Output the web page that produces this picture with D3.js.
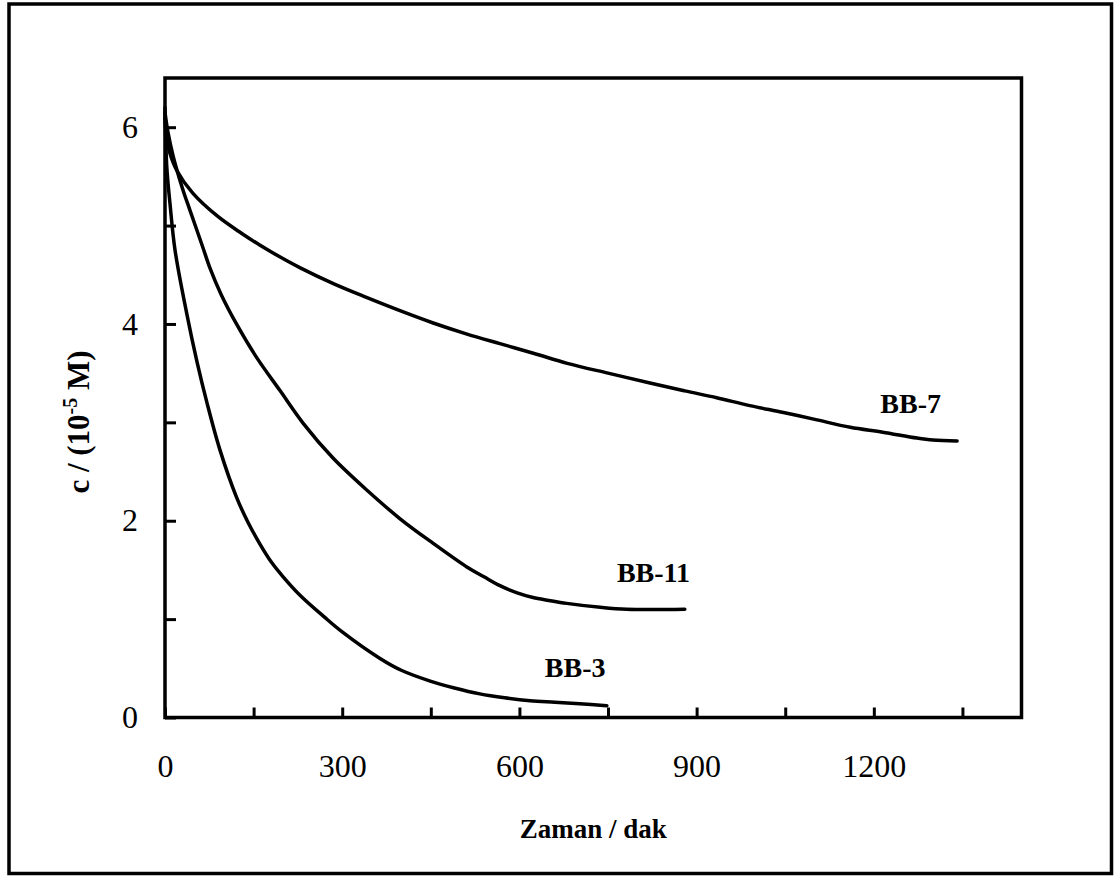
<!DOCTYPE html>
<html>
<head>
<meta charset="utf-8">
<script src="https://cdn.jsdelivr.net/npm/d3@7"></script>
<style>
  body { margin: 0; background: #fff; }
  svg { display: block; font-family: "Liberation Serif", "Times New Roman", serif; }
  .tick line { stroke: #000; stroke-width: 3; }
</style>
</head>
<body>
<div id="chart"></div>
<script>
// BB-7 series: time (dak) and concentration (10^-5 M)
const bb7Time = [0, 3, 8, 20, 47, 90, 130, 161, 195, 229, 285, 341, 400, 454, 510, 567, 625, 681, 750, 821, 880, 934, 990, 1047, 1100, 1160, 1215, 1273, 1300, 1341];
const bb7Conc = [6.1, 5.88, 5.74, 5.56, 5.33, 5.09, 4.92, 4.80, 4.68, 4.57, 4.41, 4.27, 4.13, 4.01, 3.90, 3.80, 3.70, 3.60, 3.50, 3.40, 3.32, 3.25, 3.17, 3.10, 3.03, 2.95, 2.90, 2.84, 2.82, 2.81];

// BB-11 series
const bb11Time = [0, 5, 14, 30, 42, 64, 76, 95, 121, 155, 195, 234, 284, 342, 398, 454, 511, 540, 567, 595, 623, 650, 680, 737, 782, 880];
const bb11Conc = [6.15, 5.95, 5.70, 5.37, 5.16, 4.78, 4.57, 4.30, 4.00, 3.66, 3.32, 2.99, 2.64, 2.31, 2.02, 1.77, 1.53, 1.43, 1.34, 1.27, 1.22, 1.19, 1.16, 1.12, 1.10, 1.10];

// BB-3 series
const bb3Time = [0, 3, 8.5, 17, 37, 54, 71, 93, 121, 140, 161, 180, 200, 229, 270, 300, 364, 400, 449, 490, 533, 575, 618, 660, 702, 748];
const bb3Conc = [6.2, 5.6, 5.22, 4.75, 4.10, 3.62, 3.20, 2.72, 2.24, 1.99, 1.76, 1.58, 1.43, 1.24, 1.02, 0.87, 0.60, 0.48, 0.37, 0.30, 0.24, 0.20, 0.17, 0.155, 0.14, 0.12];

// axes
const xDomain = [0, 1450];
const yDomain = [0, 6.5];
const xMinorTicks = [0, 150, 300, 450, 600, 750, 900, 1050, 1200, 1350];
const xLabelTicks = [0, 300, 600, 900, 1200];
const yMinorTicks = [0, 1, 2, 3, 4, 5, 6];
const yLabelTicks = [0, 2, 4, 6];

// curve labels: text, anchor time, anchor conc
const labelNames = ['BB-7', 'BB-11', 'BB-3'];
const labelTime = [1211, 765, 643];
const labelConc = [3.09, 1.38, 0.41];

const width = 1115, height = 876;
const plot = { left: 165, top: 78, right: 1021.5, bottom: 717.5 };

const svg = d3.select('#chart')
  .append('svg')
  .attr('width', width)
  .attr('height', height);

svg.append('rect')
  .attr('width', width).attr('height', height)
  .attr('fill', '#fff');

// outer border
svg.append('rect')
  .attr('x', 9).attr('y', 4)
  .attr('width', 1102.5).attr('height', 869.5)
  .attr('fill', 'none')
  .attr('stroke', '#000')
  .attr('stroke-width', 3.5);

const x = d3.scaleLinear().domain(xDomain).range([plot.left, plot.right]);
const y = d3.scaleLinear().domain(yDomain).range([plot.bottom, plot.top]);

// inward tick marks (no labels)
svg.append('g')
  .attr('transform', `translate(0,${plot.bottom})`)
  .call(d3.axisBottom(x).tickValues(xMinorTicks).tickSize(-10).tickSizeOuter(0).tickFormat(() => ''))
  .call(g => g.select('.domain').remove());

svg.append('g')
  .attr('transform', `translate(${plot.left},0)`)
  .call(d3.axisLeft(y).tickValues(yMinorTicks).tickSize(-11).tickSizeOuter(0).tickFormat(() => ''))
  .call(g => g.select('.domain').remove());

// tick labels
svg.append('g')
  .attr('transform', `translate(0,${plot.bottom})`)
  .call(d3.axisBottom(x).tickValues(xLabelTicks).tickSize(0).tickPadding(37).tickFormat(d3.format('d')))
  .call(g => g.select('.domain').remove())
  .selectAll('text')
  .attr('fill', '#000')
  .style('font-family', '"Liberation Serif", serif')
  .style('font-size', '32px');

svg.append('g')
  .attr('transform', `translate(${plot.left},0)`)
  .call(d3.axisLeft(y).tickValues(yLabelTicks).tickSize(0).tickPadding(27).tickFormat(d3.format('d')))
  .call(g => g.select('.domain').remove())
  .selectAll('text')
  .attr('fill', '#000')
  .style('font-family', '"Liberation Serif", serif')
  .style('font-size', '32px');

// plot frame
svg.append('rect')
  .attr('x', plot.left).attr('y', plot.top)
  .attr('width', plot.right - plot.left)
  .attr('height', plot.bottom - plot.top)
  .attr('fill', 'none')
  .attr('stroke', '#000')
  .attr('stroke-width', 3.5);

// series lines
const series = [
  d3.zip(bb7Time, bb7Conc),
  d3.zip(bb11Time, bb11Conc),
  d3.zip(bb3Time, bb3Conc)
];

const line = d3.line()
  .x(d => x(d[0]))
  .y(d => y(d[1]))
  .curve(d3.curveCatmullRom.alpha(0.5));

svg.selectAll('.series')
  .data(series)
  .enter()
  .append('path')
  .attr('class', 'series')
  .attr('d', line)
  .attr('fill', 'none')
  .attr('stroke', '#000')
  .attr('stroke-width', 3.5)
  .attr('stroke-linejoin', 'round')
  .attr('stroke-linecap', 'round');

// curve labels
svg.selectAll('.curve-label')
  .data(labelNames)
  .enter()
  .append('text')
  .attr('class', 'curve-label')
  .attr('x', (d, i) => x(labelTime[i]))
  .attr('y', (d, i) => y(labelConc[i]))
  .attr('font-size', 28)
  .attr('font-weight', 'bold')
  .text(d => d);

// axis titles
svg.append('text')
  .attr('x', (plot.left + plot.right) / 2)
  .attr('y', 838)
  .attr('text-anchor', 'middle')
  .attr('font-size', 27)
  .attr('font-weight', 'bold')
  .text('Zaman / dak');

const yTitle = svg.append('text')
  .attr('transform', 'translate(89,422) rotate(-90)')
  .attr('text-anchor', 'middle')
  .attr('font-size', 31)
  .attr('font-weight', 'bold');
yTitle.append('tspan').text('c / (10');
yTitle.append('tspan').attr('dy', -12).attr('font-size', 20).text('-5');
yTitle.append('tspan').attr('dy', 12).text(' M)');
</script>
</body>
</html>
